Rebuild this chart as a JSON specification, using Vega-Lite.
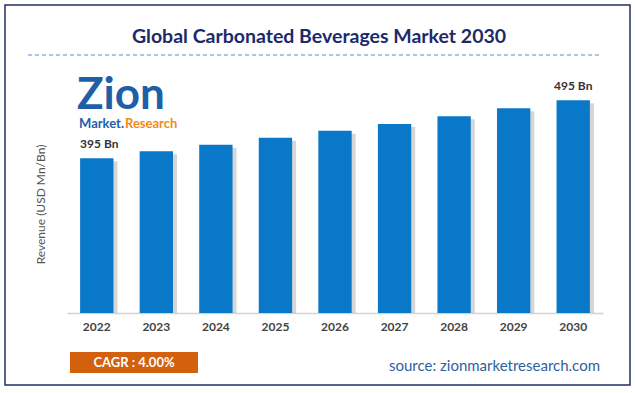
{
  "$schema": "https://vega.github.io/schema/vega-lite/v6.json",
  "width": 536,
  "height": 233,
  "autosize": {"type": "none"},
  "padding": {"left": 67, "top": 80, "right": 32, "bottom": 80},
  "background": "white",
  "config": {"view": {"stroke": null}, "font": "Lato"},
  "data": {
    "values": [
      {"year": "2022", "revenue": 395, "label": "395 Bn"},
      {"year": "2023", "revenue": 407, "label": ""},
      {"year": "2024", "revenue": 418, "label": ""},
      {"year": "2025", "revenue": 430, "label": ""},
      {"year": "2026", "revenue": 442, "label": ""},
      {"year": "2027", "revenue": 454, "label": ""},
      {"year": "2028", "revenue": 467, "label": ""},
      {"year": "2029", "revenue": 481, "label": ""},
      {"year": "2030", "revenue": 495, "label": "495 Bn"}
    ]
  },
  "encoding": {
    "x": {
      "field": "year",
      "type": "nominal",
      "scale": {"paddingInner": 0.44, "paddingOuter": 0.22},
      "axis": {
        "title": null,
        "labelFont": "Lato",
        "labelFontSize": 12,
        "labelFontWeight": "bold",
        "labelColor": "#444444",
        "labelAngle": 0,
        "ticks": false,
        "domainColor": "#d4d4d4",
        "domainWidth": 1.5,
        "labelPadding": 8
      }
    },
    "y": {
      "field": "revenue",
      "type": "quantitative",
      "scale": {"domain": [128, 529.7], "zero": false, "nice": false},
      "axis": {
        "labels": false,
        "ticks": false,
        "domain": false,
        "grid": false,
        "title": "Revenue (USD Mn/Bn)",
        "titleFont": "Lato",
        "titleFontSize": 12,
        "titleFontWeight": "normal",
        "titleColor": "#555555",
        "titleX": -27,
        "titleY": 124,
        "titleAlign": "center",
        "titleBaseline": "middle"
      }
    }
  },
  "layer": [
    {
      "mark": {"type": "bar", "color": "#8a8a8a", "opacity": 0.35, "xOffset": 4, "yOffset": 3},
      "encoding": {"y2": {"datum": 128}}
    },
    {
      "mark": {"type": "bar", "color": "#0a78c9"},
      "encoding": {"y2": {"datum": 128}}
    },
    {
      "transform": [{"filter": "datum.year == '2022'"}],
      "mark": {"type": "text", "align": "left", "baseline": "bottom", "dy": -7, "fontSize": 12, "fontWeight": "bold", "color": "#333333", "font": "Lato"},
      "encoding": {"x": {"field": "year", "type": "nominal", "bandPosition": 0}, "text": {"field": "label"}}
    },
    {
      "transform": [{"filter": "datum.year == '2030'"}],
      "mark": {"type": "text", "align": "center", "baseline": "bottom", "dy": -7, "fontSize": 12, "fontWeight": "bold", "color": "#333333", "font": "Lato"},
      "encoding": {"text": {"field": "label"}}
    },
    {
      "data": {"values": [{}]},
      "mark": {"type": "rect", "fill": null, "stroke": "#1f2f5f", "strokeWidth": 1.5},
      "encoding": {"x": {"value": -62}, "x2": {"value": 563}, "y": {"value": -75}, "y2": {"value": 305}}
    },
    {
      "data": {"values": [{}]},
      "mark": {"type": "text", "text": "Global Carbonated Beverages Market 2030", "align": "center", "baseline": "middle", "fontSize": 19.5, "fontWeight": "bold", "color": "#1c2a6a", "font": "Lato"},
      "encoding": {"x": {"value": 252}, "y": {"value": -43}}
    },
    {
      "data": {"values": [{}]},
      "mark": {"type": "rule", "stroke": "#5b8bd6", "strokeDash": [4, 3], "strokeWidth": 1},
      "encoding": {"x": {"value": -39}, "x2": {"value": 533}, "y": {"value": -25}}
    },
    {
      "data": {"values": [{}]},
      "mark": {"type": "text", "text": "Zion", "align": "left", "baseline": "bottom", "fontSize": 44, "fontWeight": "bold", "color": "#1e5fa8", "font": "Lato"},
      "encoding": {"x": {"value": 10}, "y": {"value": 38}}
    },
    {
      "data": {"values": [{}]},
      "mark": {"type": "text", "text": "Market.", "align": "right", "baseline": "top", "fontSize": 13, "fontWeight": "bold", "color": "#1e5fa8", "font": "Lato"},
      "encoding": {"x": {"value": 57}, "y": {"value": 38}}
    },
    {
      "data": {"values": [{}]},
      "mark": {"type": "text", "text": "Research", "align": "left", "baseline": "top", "fontSize": 13, "fontWeight": "bold", "color": "#f08a1c", "font": "Lato"},
      "encoding": {"x": {"value": 58}, "y": {"value": 38}}
    },
    {
      "data": {"values": [{}]},
      "mark": {"type": "rect", "fill": "#d2600c"},
      "encoding": {"x": {"value": 3}, "x2": {"value": 131}, "y": {"value": 272}, "y2": {"value": 293}}
    },
    {
      "data": {"values": [{}]},
      "mark": {"type": "text", "text": "CAGR : 4.00%", "align": "center", "baseline": "middle", "fontSize": 13, "fontWeight": "bold", "color": "white", "font": "Lato"},
      "encoding": {"x": {"value": 67}, "y": {"value": 283}}
    },
    {
      "data": {"values": [{}]},
      "mark": {"type": "text", "text": "source: zionmarketresearch.com", "align": "right", "baseline": "middle", "fontSize": 15, "color": "#2f5f9e", "font": "Lato"},
      "encoding": {"x": {"value": 533}, "y": {"value": 286}}
    }
  ]
}
